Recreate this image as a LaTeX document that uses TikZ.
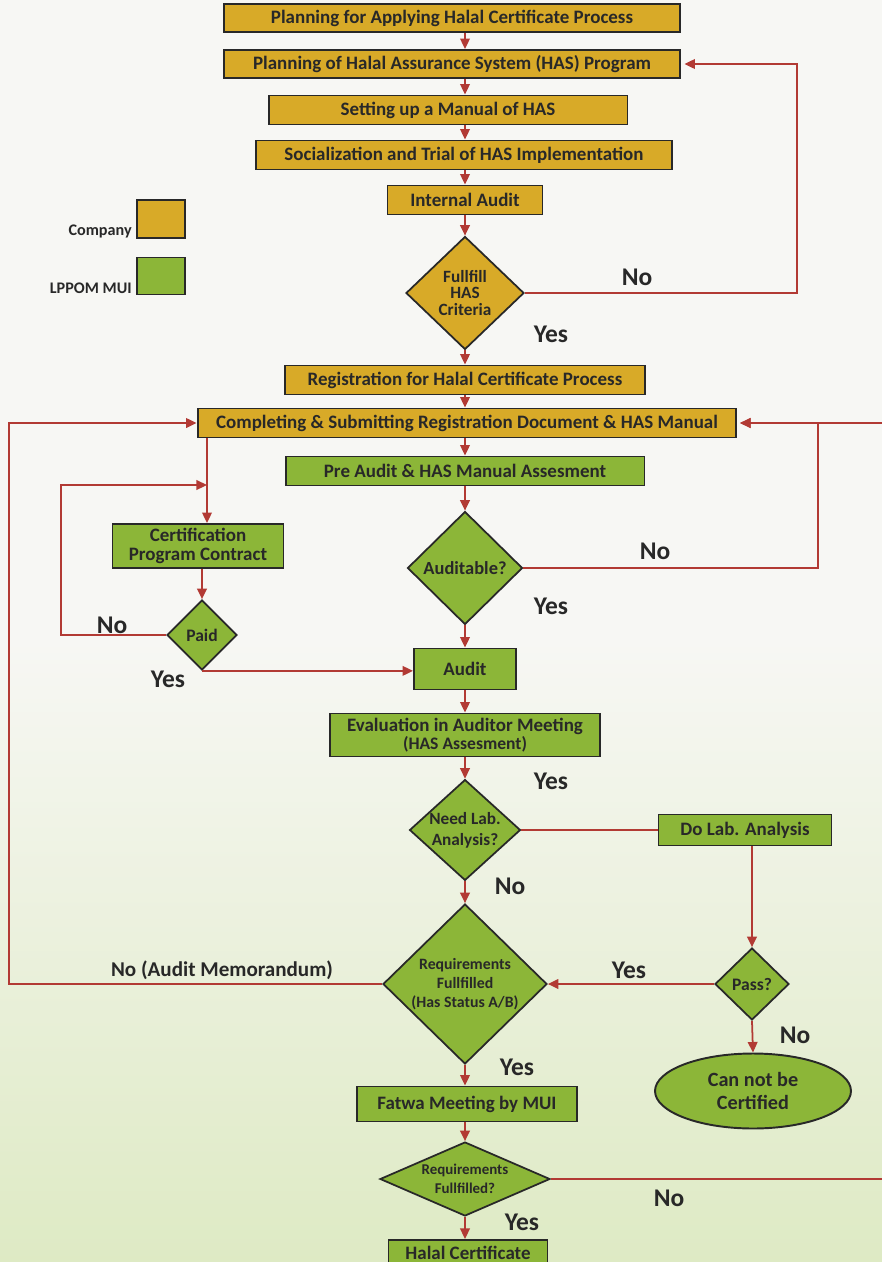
\documentclass[tikz,border=0pt]{standalone}
\usepackage{fontspec}
\setmainfont{Carlito}
\usetikzlibrary{shapes.geometric,arrows.meta,calc}

\definecolor{company}{RGB}{216,170,40}
\definecolor{lppom}{RGB}{140,182,56}
\definecolor{flowred}{RGB}{178,58,52}
\definecolor{ink}{RGB}{40,40,40}
\definecolor{bgtop}{RGB}{247,247,244}
\definecolor{bgbot}{RGB}{222,234,196}

\tikzset{
  box/.style={draw=ink, line width=1.1pt, text=ink, inner sep=1pt, align=center,
    font=\bfseries\fontsize{10.8}{12}\selectfont},
  compbox/.style={box, fill=company},
  lppombox/.style={box, fill=lppom},
  decide/.style={diamond, aspect=1, draw=ink, line width=1pt, fill=lppom, inner sep=0pt,
    align=center, text=ink, font=\bfseries\fontsize{10}{10}\selectfont},
  flow/.style={draw=flowred, line width=1pt, -{Triangle[length=6pt,width=5.5pt]}},
  link/.style={draw=flowred, line width=1pt},
  answer/.style={text=ink, inner sep=0pt, font=\bfseries\fontsize{14.5}{16}\selectfont},
  legtext/.style={text=ink, inner sep=0pt, font=\bfseries\fontsize{9.2}{10}\selectfont},
}

\begin{document}
\begin{tikzpicture}[x=0.02cm, y=-0.02cm]
% background
\fill[bgtop] (0,0) rectangle (882,1262);
\shade[top color=bgtop, bottom color=bgbot] (0,640) rectangle (882,1262);
\useasboundingbox (0,0) rectangle (882,1262);

\coordinate (spine) at (465,0);
\coordinate (cline) at (207,0);
\coordinate (paidloop) at (207,485);
\coordinate (redge) at (886,0);

% company steps
\node[compbox, minimum width=9.12cm, minimum height=0.56cm] (plan) at (452,18) {Planning for Applying Halal Certificate Process};
\node[compbox, minimum width=9.12cm, minimum height=0.56cm] (hasprog) at (452,64) {Planning of Halal Assurance System (HAS) Program};
\node[compbox, minimum width=7.18cm, minimum height=0.58cm] (manual) at (448,110) {Setting up a Manual of HAS};
\node[compbox, minimum width=8.34cm, minimum height=0.58cm] (trial) at (464,155) {Socialization and Trial of HAS Implementation};
\node[compbox, minimum width=3.1cm, minimum height=0.58cm] (intaudit) at (465,200) {Internal Audit};
\node[decide, fill=company, font=\bfseries\fontsize{9.8}{9.5}\selectfont,
  minimum width=2.36cm, minimum height=2.26cm] (fulfil) at (465,293) {Fullfill\\HAS\\Criteria};
\node[compbox, minimum width=7.2cm, minimum height=0.58cm] (regist) at (465,380) {Registration for Halal Certificate Process};
\node[compbox, minimum width=10.78cm, minimum height=0.58cm] (submit) at (467,423) {Completing \& Submitting Registration Document \& HAS Manual};

% legend
\node[compbox, minimum width=0.96cm, minimum height=0.76cm] (legco) at (161,219) {};
\node[lppombox, minimum width=0.96cm, minimum height=0.74cm] (leglp) at (161,276) {};
\node[legtext, anchor=base east] (legcotxt) at (132,235) {Company};
\node[legtext, anchor=base east] (leglptxt) at (132,293) {LPPOM MUI};

% LPPOM MUI steps
\node[lppombox, minimum width=7.18cm, minimum height=0.58cm] (preaudit) at (465,471) {Pre Audit \& HAS Manual Assesment};
\node[lppombox, minimum width=3.42cm, minimum height=0.88cm, font=\bfseries\fontsize{10.8}{11}\selectfont] (contract) at (198,546) {Certification\\Program Contract};
\node[decide, minimum width=1.4cm, minimum height=1.4cm] (paid) at (202,635) {Paid};
\node[decide, font=\bfseries\fontsize{10.5}{11}\selectfont, minimum width=2.3cm, minimum height=2.26cm] (auditable) at (465,568) {Auditable?};
\node[lppombox, minimum width=2.04cm, minimum height=0.82cm] (audit) at (465,669) {Audit};
\node[lppombox, minimum width=5.4cm, minimum height=0.86cm, font=\bfseries\fontsize{10.8}{10}\selectfont] (evalmeet) at (465,735) {Evaluation in Auditor Meeting\\{\fontsize{10}{10}\selectfont(HAS Assesment)}};
\node[decide, font=\bfseries\fontsize{9.8}{12}\selectfont, aspect=1.1, minimum width=2.16cm, minimum height=1.94cm] (needlab) at (465,830) {Need Lab.\\Analysis?};
\node[lppombox, minimum width=3.46cm, minimum height=0.62cm] (dolab) at (745,830) {Do Lab. Analysis};
\node[decide, font=\bfseries\fontsize{9}{10.8}\selectfont, minimum width=3.28cm, minimum height=3.2cm] (reqful) at (465,984) {Requirements\\Fullfilled\\(Has Status A/B)};
\node[decide, minimum width=1.48cm, minimum height=1.44cm] (pass) at (752,984) {Pass?};
\node[ellipse, draw=ink, line width=1.1pt, fill=lppom, text=ink, align=center, inner sep=0pt,
  font=\bfseries\fontsize{11.5}{13.5}\selectfont, minimum width=3.92cm, minimum height=1.5cm] (nocert) at (753,1091) {Can not be\\Certified};
\node[lppombox, minimum width=4.4cm, minimum height=0.7cm] (fatwa) at (467,1104) {Fatwa Meeting by MUI};
\node[decide, font=\bfseries\fontsize{8.5}{10.5}\selectfont, aspect=2.3, minimum width=3.4cm, minimum height=1.48cm] (reqful2) at (465,1179) {Requirements\\Fullfilled?};
\node[lppombox, inner sep=0pt, minimum width=3.18cm, minimum height=0.5cm, anchor=north] (halal) at (468,1239) {Halal Certificate};

% yes / no
\node[answer] (ans1) at (637,277) {No};
\node[answer] (ans2) at (551,334) {Yes};
\node[answer] (ans3) at (655,551) {No};
\node[answer] (ans4) at (551,606) {Yes};
\node[answer] (ans5) at (112,625) {No};
\node[answer] (ans6) at (168,679) {Yes};
\node[answer] (ans7) at (551,781) {Yes};
\node[answer] (ans8) at (510,886) {No};
\node[answer, font=\bfseries\fontsize{12}{14}\selectfont] (ans9) at (222,970) {No (Audit Memorandum)};
\node[answer] (ans10) at (629,970) {Yes};
\node[answer] (ans11) at (795,1035) {No};
\node[answer] (ans12) at (517,1067) {Yes};
\node[answer] (ans13) at (669,1198) {No};
\node[answer] (ans14) at (522,1222) {Yes};

% main line
\foreach \a/\b in {plan/hasprog, hasprog/manual, manual/trial, trial/intaudit, intaudit/fulfil,
  fulfil/regist, regist/submit, submit/preaudit, preaudit/auditable, auditable/audit,
  audit/evalmeet, evalmeet/needlab, needlab/reqful, reqful/fatwa, fatwa/reqful2, reqful2/halal}
  \draw[flow] (\a.south -| spine) -- (\b.north -| spine);

% loops back
\draw[flow, shorten >=2pt] (fulfil.east) -- ++(272,0) |- (hasprog.east);
\draw[flow, shorten >=1.5pt] (auditable.east) -- ++(295,0) |- (submit.east);
\draw[flow, shorten >=1.5pt] (reqful2.east) -| (redge |- submit.east) -- (submit.east);
\draw[flow] (reqful.west) -- ++(-373,0) |- (submit.west);

% payment branch
\draw[flow] (submit.south -| cline) -- (contract.north -| cline);
\draw[flow] (contract.south -| paid.north) -- (paid.north);
\draw[flow] (paid.west) -- ++(-105,0) |- (paidloop);
\draw[flow] (paid.south) -- (paid.south -| audit.west);

% lab branch
\draw[link] (needlab.east) -- (dolab.west);
\draw[flow] (dolab.south -| pass.north) -- (pass.north);
\draw[flow] (pass.west) -- (reqful.east);
\draw[flow] (pass.south) -- (nocert.north);
\end{tikzpicture}
\end{document}
